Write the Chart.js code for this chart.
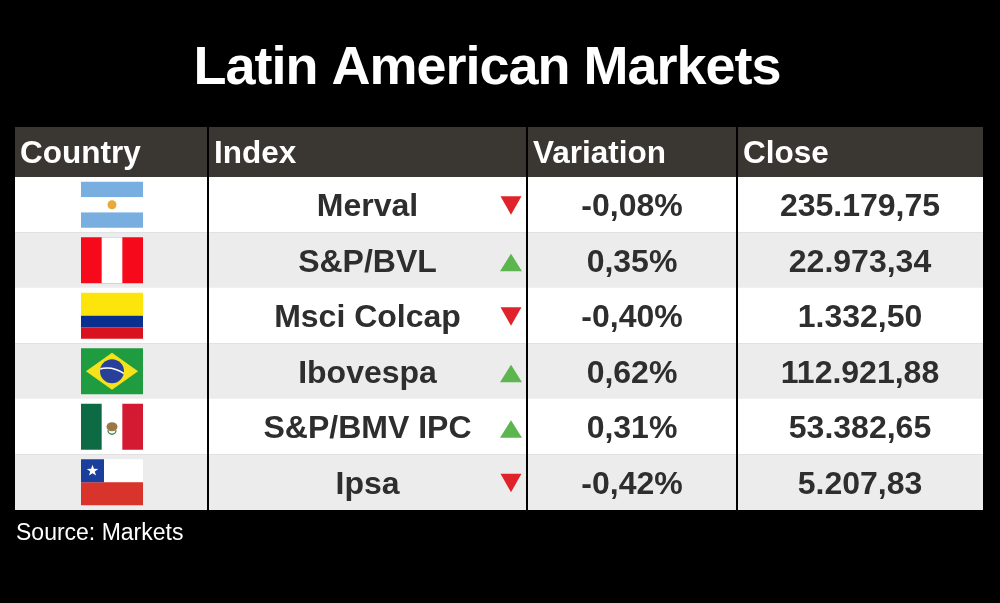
<!DOCTYPE html>
<html>
<head>
<meta charset="utf-8">
<script src="https://cdn.jsdelivr.net/npm/chart.js@4"></script>
<style>
  html, body { margin: 0; padding: 0; background: #000; }
  #wrap { width: 1000px; height: 603px; }
</style>
</head>
<body>
<div id="wrap"><canvas id="marketTable" width="1000" height="603"></canvas></div>
<script>
// Table data
const countries = ['Argentina', 'Peru', 'Colombia', 'Brazil', 'Mexico', 'Chile'];
const indexNames = ['Merval', 'S&P/BVL', 'Msci Colcap', 'Ibovespa', 'S&P/BMV IPC', 'Ipsa'];
const variations = [-0.08, 0.35, -0.40, 0.62, 0.31, -0.42];   // percent
const closes = [235179.75, 22973.34, 1332.50, 112921.88, 53382.65, 5207.83];
const columnTitles = ['Country', 'Index', 'Variation', 'Close'];

const titleText = 'Latin American Markets';
const sourceText = 'Source: Markets';

// Layout (pixels)
const TABLE_LEFT = 15;
const TABLE_RIGHT = 983;
const HEADER_TOP = 127;
const BODY_TOP = 177;
const BODY_BOTTOM = 510;
const colEdges = [0, 193, 512, 722, 968];   // relative to table left
const FONT = '"Liberation Sans", Arial, sans-serif';
const TEXT_DARK = '#2e2e2e';
const UP_COLOR = '#5cb54e';
const DOWN_COLOR = '#e0232a';

// number formatting like 235.179,75
function formatClose(v) {
  const parts = v.toFixed(2).split('.');
  const intPart = parts[0].replace(/\B(?=(\d{3})+(?!\d))/g, '.');
  return intPart + ',' + parts[1];
}
function formatVariation(v) {
  return v.toFixed(2).replace('.', ',') + '%';
}

// Flags
function drawStar(ctx, cx, cy, r, color) {
  ctx.beginPath();
  for (let i = 0; i < 10; i++) {
    const rad = i % 2 ? r * 0.4 : r;
    const a = -Math.PI / 2 + i * Math.PI / 5;
    ctx.lineTo(cx + rad * Math.cos(a), cy + rad * Math.sin(a));
  }
  ctx.closePath();
  ctx.fillStyle = color;
  ctx.fill();
}

const flagPainters = {
  Argentina(ctx, x, y, w, h) {
    ctx.fillStyle = '#78aee0';
    ctx.fillRect(x, y, w, h);
    ctx.fillStyle = '#ffffff';
    ctx.fillRect(x, y + h / 3, w, h / 3);
    ctx.beginPath();
    ctx.arc(x + w / 2, y + h / 2, 4.5, 0, Math.PI * 2);
    ctx.fillStyle = '#e9a93a';
    ctx.fill();
  },
  Peru(ctx, x, y, w, h) {
    ctx.fillStyle = '#f5091a';
    ctx.fillRect(x, y, w, h);
    ctx.fillStyle = '#ffffff';
    ctx.fillRect(x + w / 3, y, w / 3, h);
  },
  Colombia(ctx, x, y, w, h) {
    ctx.fillStyle = '#fde40b';
    ctx.fillRect(x, y, w, h / 2);
    ctx.fillStyle = '#0b2f8f';
    ctx.fillRect(x, y + h / 2, w, h / 4);
    ctx.fillStyle = '#d8121f';
    ctx.fillRect(x, y + h * 0.75, w, h / 4);
  },
  Brazil(ctx, x, y, w, h) {
    ctx.fillStyle = '#1f9c3f';
    ctx.fillRect(x, y, w, h);
    ctx.beginPath();
    ctx.moveTo(x + w * 0.08, y + h / 2);
    ctx.lineTo(x + w / 2, y + h * 0.1);
    ctx.lineTo(x + w * 0.92, y + h / 2);
    ctx.lineTo(x + w / 2, y + h * 0.9);
    ctx.closePath();
    ctx.fillStyle = '#f6e21a';
    ctx.fill();
    ctx.beginPath();
    ctx.arc(x + w / 2, y + h / 2, h * 0.26, 0, Math.PI * 2);
    ctx.fillStyle = '#27409a';
    ctx.fill();
    ctx.save();
    ctx.clip();
    ctx.beginPath();
    ctx.arc(x + w * 0.42, y + h * 1.05, h * 0.62, -Math.PI * 0.62, -Math.PI * 0.18);
    ctx.strokeStyle = '#ffffff';
    ctx.lineWidth = 1.6;
    ctx.stroke();
    ctx.restore();
  },
  Mexico(ctx, x, y, w, h) {
    ctx.fillStyle = '#ffffff';
    ctx.fillRect(x, y, w, h);
    ctx.fillStyle = '#0c6b45';
    ctx.fillRect(x, y, w / 3, h);
    ctx.fillStyle = '#d41a32';
    ctx.fillRect(x + w * 2 / 3, y, w / 3, h);
    ctx.beginPath();
    ctx.ellipse(x + w / 2, y + h / 2, 5.5, 4.5, 0, 0, Math.PI * 2);
    ctx.fillStyle = '#9a7744';
    ctx.fill();
    ctx.beginPath();
    ctx.arc(x + w / 2, y + h / 2 + 3.5, 4, 0, Math.PI);
    ctx.strokeStyle = '#3f8a4a';
    ctx.lineWidth = 1.4;
    ctx.stroke();
  },
  Chile(ctx, x, y, w, h) {
    ctx.fillStyle = '#ffffff';
    ctx.fillRect(x, y, w, h / 2);
    ctx.fillStyle = '#d9342b';
    ctx.fillRect(x, y + h / 2, w, h / 2);
    ctx.fillStyle = '#1a3e9c';
    ctx.fillRect(x, y, h / 2, h / 2);
    drawStar(ctx, x + h / 4, y + h / 4, 6, '#ffffff');
  }
};

// Plugin drawing the header, cell contents, flags and separators
const tablePlugin = {
  id: 'tablePlugin',
  afterDatasetsDraw(chart) {
    const ctx = chart.ctx;
    const xScale = chart.scales.x;
    const yScale = chart.scales.y;
    const edgePx = colEdges.map(e => xScale.getPixelForValue(e));

    ctx.save();

    // title
    ctx.fillStyle = '#ffffff';
    ctx.font = 'bold 54px ' + FONT;
    ctx.textAlign = 'center';
    ctx.textBaseline = 'alphabetic';
    ctx.letterSpacing = '-1px';
    ctx.fillText(titleText, 487, 84);
    ctx.letterSpacing = '0px';

    // header
    ctx.fillStyle = '#3a3632';
    ctx.fillRect(edgePx[0], HEADER_TOP, edgePx[4] - edgePx[0], BODY_TOP - HEADER_TOP);
    ctx.fillStyle = '#ffffff';
    ctx.font = 'bold 31.5px ' + FONT;
    ctx.textAlign = 'left';
    columnTitles.forEach((t, i) => {
      ctx.fillText(t, edgePx[i] + (i === 0 ? 5 : 6), 163);
    });

    // cells
    indexNames.forEach((name, i) => {
      const cy = yScale.getPixelForValue(i);

      // flag
      const fw = 62, fh = 46;
      const fx = (edgePx[0] + edgePx[1]) / 2 - fw / 2 + 0.5;
      const fy = cy - fh / 2;
      flagPainters[countries[i]](ctx, fx, fy, fw, fh);

      ctx.fillStyle = TEXT_DARK;
      ctx.font = 'bold 32px ' + FONT;
      ctx.textAlign = 'center';
      ctx.fillText(name, (edgePx[1] + edgePx[2]) / 2, cy + 11.5);
      ctx.fillText(formatVariation(variations[i]), (edgePx[2] + edgePx[3]) / 2, cy + 11.5);
      ctx.fillText(formatClose(closes[i]), (edgePx[3] + edgePx[4]) / 2, cy + 11.5);

      // direction marker
      const tx = edgePx[2] - 16;
      ctx.beginPath();
      if (variations[i] < 0) {
        const ty = cy + 0.5;
        ctx.moveTo(tx - 10.5, ty - 9);
        ctx.lineTo(tx + 10.5, ty - 9);
        ctx.lineTo(tx, ty + 9.5);
        ctx.fillStyle = DOWN_COLOR;
      } else {
        const ty = cy + 2.5;
        ctx.moveTo(tx - 11, ty + 8.5);
        ctx.lineTo(tx + 11, ty + 8.5);
        ctx.lineTo(tx, ty - 9);
        ctx.fillStyle = UP_COLOR;
      }
      ctx.closePath();
      ctx.fill();
    });

    // column separators
    ctx.strokeStyle = '#000000';
    ctx.lineWidth = 2;
    for (let i = 1; i < colEdges.length - 1; i++) {
      ctx.beginPath();
      ctx.moveTo(Math.round(edgePx[i]), HEADER_TOP);
      ctx.lineTo(Math.round(edgePx[i]), yScale.bottom);
      ctx.stroke();
    }

    // source
    ctx.fillStyle = '#ffffff';
    ctx.font = '23px ' + FONT;
    ctx.textAlign = 'left';
    ctx.fillText(sourceText, 16, 540);

    ctx.restore();
  }
};

const ctx = document.getElementById('marketTable').getContext('2d');
const tableChart = new Chart(ctx, {
  type: 'bar',
  data: {
    labels: indexNames,
    datasets: [{
      label: 'rows',
      data: indexNames.map(() => [colEdges[0], colEdges[colEdges.length - 1]]),
      backgroundColor: indexNames.map((_, i) => i % 2 ? '#ececec' : '#ffffff'),
      borderWidth: 0,
      barPercentage: 1,
      categoryPercentage: 1
    }]
  },
  options: {
    indexAxis: 'y',
    responsive: false,
    animation: false,
    events: [],
    layout: {
      padding: {
        left: TABLE_LEFT,
        right: 1000 - TABLE_RIGHT,
        top: BODY_TOP,
        bottom: 603 - BODY_BOTTOM
      }
    },
    scales: {
      x: { type: 'linear', display: false, min: colEdges[0], max: colEdges[colEdges.length - 1] },
      y: { type: 'category', display: false, offset: true }
    },
    plugins: {
      legend: { display: false },
      tooltip: { enabled: false }
    }
  },
  plugins: [tablePlugin]
});
</script>
</body>
</html>
